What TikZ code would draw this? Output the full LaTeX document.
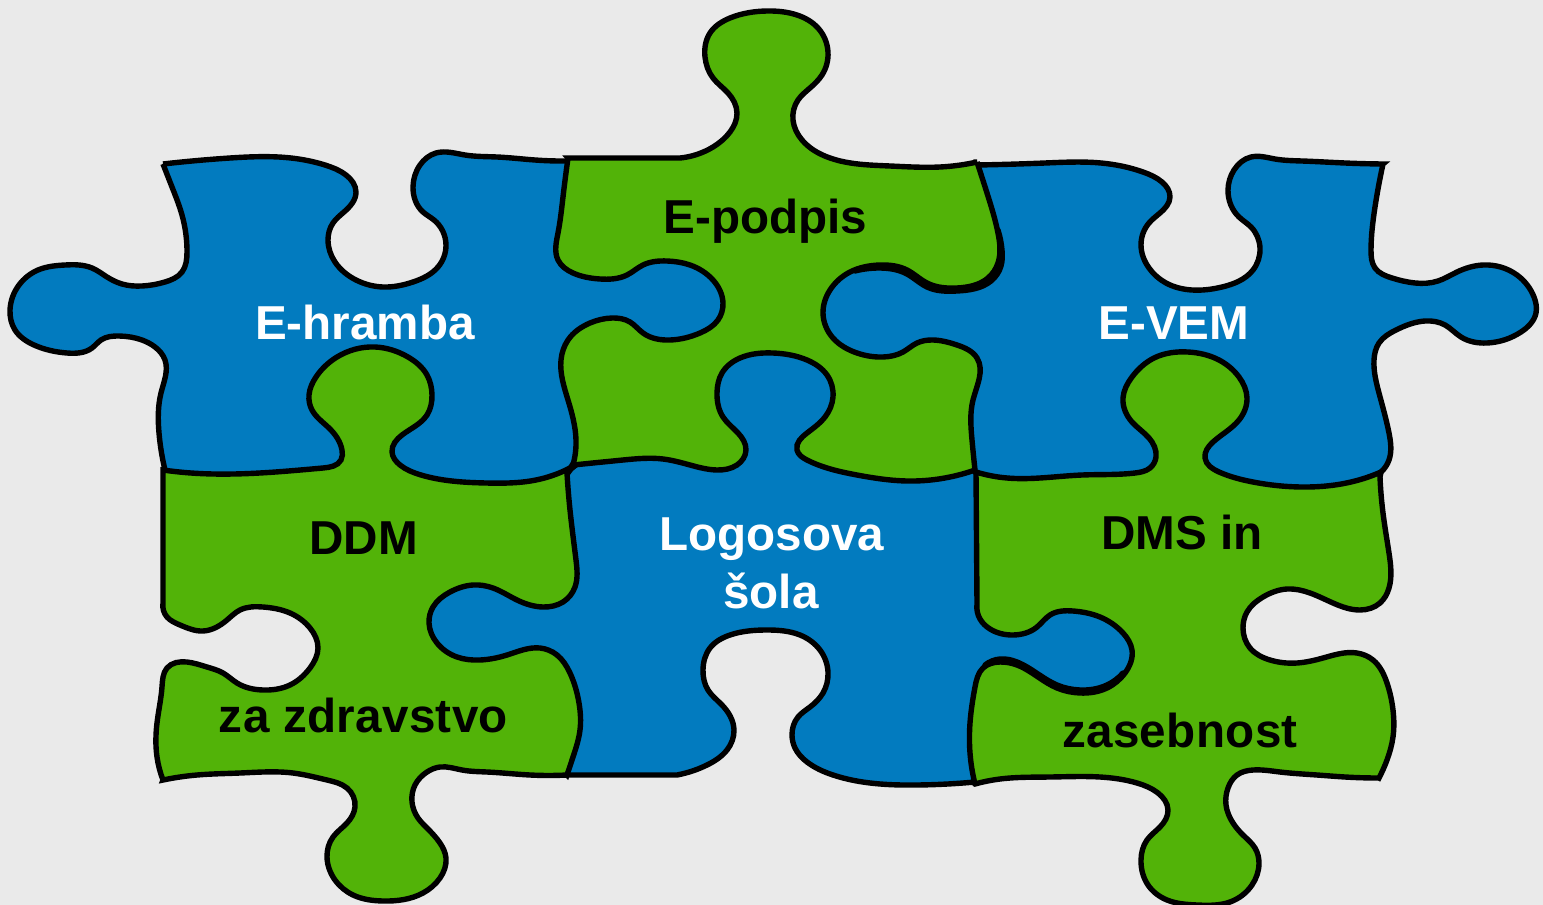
\documentclass[tikz,border=0pt]{standalone}
\usepackage{fontspec}
\usetikzlibrary{hobby}
\setmainfont{Liberation Sans}
\definecolor{bgc}{RGB}{234,234,234}
\definecolor{bluep}{RGB}{2,123,191}
\definecolor{greenp}{RGB}{82,179,8}
\tikzset{
  piece/.style={use Hobby shortcut,draw=black,line width=5.4pt,line join=miter,miter limit=4},
  bluepiece/.style={piece,fill=bluep},
  greenpiece/.style={piece,fill=greenp},
  thickedge/.style={use Hobby shortcut,draw=black,line width=5.4pt,line cap=round},
  lab/.style={inner sep=0pt,anchor=base,font=\fontsize{47.6}{50}\selectfont\bfseries},
  labw/.style={lab,text=white},
  labk/.style={lab,text=black}
}
\begin{document}
\begin{tikzpicture}[x=1pt,y=-1pt]
\useasboundingbox[fill=bgc] (0,0) rectangle (1543,905);
% E-hramba
\draw[bluepiece] (165,470)..(159,433)..(161,393)..(165,360)..(155,347)..(142,340)..(119,336)..(101,340)..(92,348)..(67,353)..(34,345)..(15,330)..(10,310)..(19,285)..(38,270)..(65,265)..(92,268)..(107,277)..(122,284)..(142,286)..(165,282)..(182,272)..(187,252)..(182,215)..(172,187)..(163,164)
 -- (163,164)..(230,158)..(291,158)..(325,165)..(346,175)..(356,192)..(344,212)..(333,223)..(328,240)..(335,262)..(356,280)..(383,287)..(413,282)..(438,267)..(446,245)..(434,220)..(423,212)..(413,187)..(420,165)..(436,153)..(465,155)..(497,157)..(535,160)..(570,161)
 -- (600,240) -- (740,240) -- (740,345) -- (600,345) -- (600,420) -- (571,467) -- (555,490) -- (175,490) -- cycle;
% E-VEM
\draw[bluepiece] (977,165)..(1045,163)..(1101,163)..(1143,172)..(1162,182)..(1170,197)..(1160,213)..(1149,223)..(1141,245)..(1149,268)..(1166,283)..(1192,290)..(1222,287)..(1253,270)..(1260,248)..(1251,227)..(1239,217)..(1228,190)..(1234,170)..(1251,157)..(1275,159)..(1302,161)..(1345,163)..(1383,164)
 -- (1383,164)..(1375,207)..(1371,250)..(1375,268)..(1392,278)..(1415,283)..(1438,281)..(1457,272)..(1483,265)..(1517,275)..(1534,297)..(1536,313)..(1521,332)..(1487,343)..(1461,337)..(1445,325)..(1425,321)..(1396,330)..(1379,343)..(1374,360)..(1379,393)..(1389,433)..(1389,460)..(1381,472)
 -- (1372,490) -- (985,490) -- (965,475) -- (960,370) -- (870,370) -- (810,345) -- (810,250) -- (960,230) -- (970,175) -- cycle;
\draw[thickedge] (998,230)..(1002,250)..(1001,266)..(991,281)..(957,291)..(927,287)..(907,274)..(880,268)..(855,271);
% Logosova sola
\draw[bluepiece] (571,469) -- (600,445) -- (700,450) -- (700,346) -- (810,346) -- (845,375) -- (850,450) -- (960,450) -- (975,472) -- (990,480) -- (990,600) -- (1150,600) -- (1150,700) -- (990,705) -- (985,770) -- (975,782)
 -- (975,782)..(917,785)..(833,775)..(807,762)..(795,748)..(792,735)..(798,717)..(810,707)..(823,693)..(828,672)..(820,650)..(800,635)..(767,630)..(730,635)..(710,648)..(703,670)..(708,690)..(722,705)..(734,730)..(727,750)..(707,765)..(677,775)
 -- (560,775) -- (560,700) -- (420,680) -- (415,570) -- (555,570) -- (555,490) -- cycle;
\draw[thickedge] (985,665)..(1000,659)..(1017,662)..(1038,674)..(1057,685)..(1080,690)..(1107,685)..(1123,673);
% DDM / za zdravstvo
\draw[greenpiece] (163,470)..(191,473)..(323,468)..(341,460)..(342,450)..(329,428)..(312,410)..(309,395)..(316,377)..(337,357)..(375,347)..(408,357)..(427,375)..(432,395)..(427,415)..(402,435)..(392,452)..(400,465)..(421,475)..(486,483)..(536,480)..(570,468)
 -- (567,473)..(570,510)..(576,560)..(575,587)..(563,602)..(543,607)..(517,600)..(493,588)..(473,585)..(450,592)..(433,607)..(429,623)..(437,643)..(457,657)..(480,660)..(507,655)..(540,648)..(557,655)..(570,673)..(579,703)..(580,730)..(573,757)..(567,775)
 -- (567,775)..(530,775)..(487,772)..(462,770)..(440,767)..(427,772)..(415,785)..(412,802)..(418,818)..(427,828)..(440,843)..(446,858)..(440,878)..(423,893)..(383,901)..(353,895)..(335,880)..(327,857)..(333,837)..(347,823)..(355,807)..(347,788)..(327,780)..(293,773)..(240,773)..(197,775)..(163,780)
 -- (163,780)..(157,757)..(157,723)..(162,687)..(167,668)..(187,662)..(207,667)..(223,673)..(237,683)..(263,690)..(290,685)..(310,668)..(318,648)..(310,628)..(290,613)..(263,607)..(240,610)..(227,620)..(203,631)..(180,625)..(167,617)..(163,603)
 -- cycle;
% DMS in zasebnost
\draw[greenpiece] (976,472)..(1007,478)..(1082,475)..(1135,473)..(1150,468)..(1156,457)..(1149,438)..(1132,422)..(1123,398)..(1132,377)..(1154,358)..(1188,352)..(1219,360)..(1239,377)..(1247,398)..(1239,420)..(1213,442)..(1205,458)..(1219,472)..(1253,482)..(1302,487)..(1351,482)..(1381,472)
 -- (1380,477)..(1383,513)..(1389,553)..(1389,588)..(1380,603)..(1360,610)..(1333,603)..(1310,593)..(1287,589)..(1263,597)..(1247,612)..(1243,628)..(1250,648)..(1270,660)..(1297,663)..(1323,658)..(1357,653)..(1373,660)..(1387,683)..(1393,710)..(1393,737)..(1387,760)..(1379,778)
 -- (1379,778)..(1345,777)..(1317,775)..(1280,772)..(1253,770)..(1237,775)..(1228,788)..(1226,805)..(1233,823)..(1243,835)..(1255,848)..(1259,863)..(1252,885)..(1230,902)..(1197,905)..(1167,900)..(1148,885)..(1141,860)..(1147,840)..(1160,827)..(1168,810)..(1158,793)..(1137,783)..(1100,777)..(1050,777)..(1000,779)..(975,784)
 -- (975,784)..(970,753)..(970,723)..(975,687)..(983,668)..(1000,662)..(1017,665)..(1038,677)..(1057,688)..(1080,693)..(1107,688)..(1125,673)..(1132,650)..(1123,633)..(1100,617)..(1073,611)..(1050,615)..(1037,627)..(1013,635)..(990,629)..(980,619)..(977,604)
 -- cycle;
% E-podpis
\draw[greenpiece] (568,158) -- (680,158) -- (680,158)..(713,147)..(730,132)..(737,113)..(728,93)..(713,78)..(705,57)..(710,33)..(730,18)..(767,11)..(797,15)..(818,28)..(828,52)..(822,75)..(810,88)..(798,100)..(793,120)..(802,140)..(830,158)..(890,166)..(940,167)..(977,162)
 -- (977,162)..(987,193)..(998,233)..(998,263)..(988,278)..(957,288)..(927,283)..(907,270)..(880,265)..(850,272)..(830,290)..(823,313)..(833,338)..(857,353)..(883,357)..(903,352)..(917,343)..(933,340)..(957,345)..(977,358)..(973,400)..(972,440)..(975,470)
 -- (975,470)..(950,477)..(907,481)..(857,475)..(807,460)..(797,450)..(807,433)..(825,417)..(833,397)..(827,375)..(807,360)..(773,353)..(740,358)..(722,373)..(717,393)..(723,417)..(738,433)..(746,450)..(737,465)..(717,470)..(690,465)..(663,459)..(623,460)..(573,465)
 -- (573,465)..(576,440)..(568,400)..(561,360)..(568,340)..(590,323)..(612,318)..(630,322)..(643,333)..(670,340)..(700,333)..(718,320)..(723,303)..(713,280)..(690,265)..(667,261)..(643,265)..(627,275)..(600,279)..(573,273)..(558,260)..(558,233)..(563,197)..(568,158)
 -- cycle;
% Labels
\node[labw] (ehramba) at (365,339) {E-hramba};
\node[labk] (epodpis) at (765.5,233) {E-podpis};
\node[labw] (evem) at (1174,339) {E-VEM};
\node[labk] (ddm) at (363.5,554) {DDM};
\node[labk] (zdrav) at (363.5,732) {\addfontfeature{LetterSpace=0.7}za zdravstvo};
\node[labw] (logos) at (772,550) {Logosova};
\node[labw] (sola) at (771,608) {šola};
\node[labk] (dms) at (1182,549) {DMS in};
\node[labk] (zaseb) at (1180,747) {\addfontfeature{LetterSpace=0.7}zasebnost};
\end{tikzpicture}
\end{document}
